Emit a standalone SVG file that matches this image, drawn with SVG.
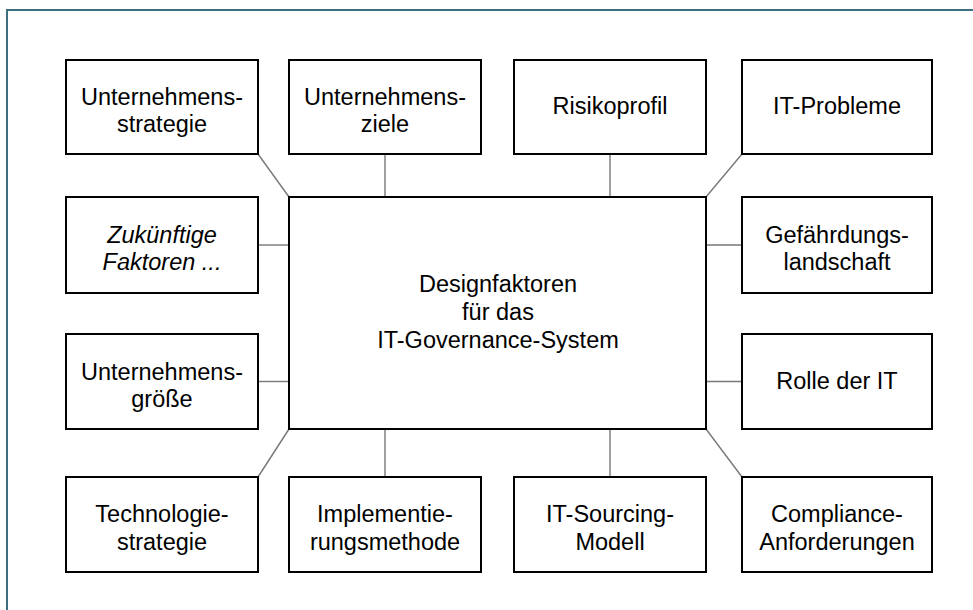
<svg xmlns="http://www.w3.org/2000/svg" width="973" height="610" viewBox="0 0 973 610">
  <style>
    .box { fill: #ffffff; stroke: #000000; stroke-width: 2; }
    .lbl { font-family: "Liberation Sans", Arial, sans-serif; font-size: 23.5px; fill: #000000; text-anchor: middle; }
    .it { font-style: italic; }
    .con { stroke: #777777; stroke-width: 1.4; fill: none; }
  </style>
  <rect width="973" height="610" fill="#ffffff"/>
  <!-- frame: only top and left edges fall inside the canvas -->
  <path d="M7 612 V10 H975" fill="none" stroke="#3e6f81" stroke-width="2"/>

  <g id="connectors">
    <line class="con" x1="258" y1="154" x2="289" y2="197"/>
    <line class="con" x1="385" y1="154" x2="385" y2="197"/>
    <line class="con" x1="610" y1="154" x2="610" y2="197"/>
    <line class="con" x1="742" y1="154" x2="706" y2="197"/>
    <line class="con" x1="258" y1="245" x2="289" y2="245"/>
    <line class="con" x1="706" y1="245" x2="742" y2="245"/>
    <line class="con" x1="258" y1="381.5" x2="289" y2="381.5"/>
    <line class="con" x1="706" y1="381.5" x2="742" y2="381.5"/>
    <line class="con" x1="289" y1="429" x2="258" y2="477"/>
    <line class="con" x1="385" y1="429" x2="385" y2="477"/>
    <line class="con" x1="610" y1="429" x2="610" y2="477"/>
    <line class="con" x1="706" y1="429" x2="742" y2="477"/>
  </g>

  <g id="center">
    <rect class="box" x="289" y="197" width="417" height="232"/>
    <text class="lbl" x="498" y="292">Designfaktoren</text>
    <text class="lbl" x="498" y="319.5">für das</text>
    <text class="lbl" x="498" y="347.5">IT-Governance-System</text>
  </g>

  <!-- top row -->
  <g id="unternehmensstrategie">
    <rect class="box" x="66" y="60" width="192" height="94"/>
    <text class="lbl" x="162" y="105">Unternehmens-</text>
    <text class="lbl" x="162" y="132">strategie</text>
  </g>
  <g id="unternehmensziele">
    <rect class="box" x="289" y="60" width="192" height="94"/>
    <text class="lbl" x="385" y="105">Unternehmens-</text>
    <text class="lbl" x="385" y="132">ziele</text>
  </g>
  <g id="risikoprofil">
    <rect class="box" x="514" y="60" width="192" height="94"/>
    <text class="lbl" x="610" y="114">Risikoprofil</text>
  </g>
  <g id="it-probleme">
    <rect class="box" x="742" y="60" width="190" height="94"/>
    <text class="lbl" x="837" y="114">IT-Probleme</text>
  </g>

  <!-- second row -->
  <g id="zukuenftige-faktoren">
    <rect class="box" x="66" y="197" width="192" height="96"/>
    <text class="lbl it" x="162" y="242.5">Zukünftige</text>
    <text class="lbl it" x="162" y="269.5">Faktoren ...</text>
  </g>
  <g id="gefaehrdungslandschaft">
    <rect class="box" x="742" y="197" width="190" height="96"/>
    <text class="lbl" x="837" y="242.5">Gefährdungs-</text>
    <text class="lbl" x="837" y="269.5">landschaft</text>
  </g>

  <!-- third row -->
  <g id="unternehmensgroesse">
    <rect class="box" x="66" y="334" width="192" height="95"/>
    <text class="lbl" x="162" y="379.5">Unternehmens-</text>
    <text class="lbl" x="162" y="406.5">größe</text>
  </g>
  <g id="rolle-der-it">
    <rect class="box" x="742" y="334" width="190" height="95"/>
    <text class="lbl" x="837" y="389">Rolle der IT</text>
  </g>

  <!-- bottom row -->
  <g id="technologiestrategie">
    <rect class="box" x="66" y="477" width="192" height="95"/>
    <text class="lbl" x="162" y="522">Technologie-</text>
    <text class="lbl" x="162" y="549.5">strategie</text>
  </g>
  <g id="implementierungsmethode">
    <rect class="box" x="289" y="477" width="192" height="95"/>
    <text class="lbl" x="385" y="522">Implementie-</text>
    <text class="lbl" x="385" y="549.5">rungsmethode</text>
  </g>
  <g id="it-sourcing-modell">
    <rect class="box" x="514" y="477" width="192" height="95"/>
    <text class="lbl" x="610" y="522">IT-Sourcing-</text>
    <text class="lbl" x="610" y="549.5">Modell</text>
  </g>
  <g id="compliance-anforderungen">
    <rect class="box" x="742" y="477" width="190" height="95"/>
    <text class="lbl" x="837" y="522">Compliance-</text>
    <text class="lbl" x="837" y="549.5">Anforderungen</text>
  </g>
</svg>
